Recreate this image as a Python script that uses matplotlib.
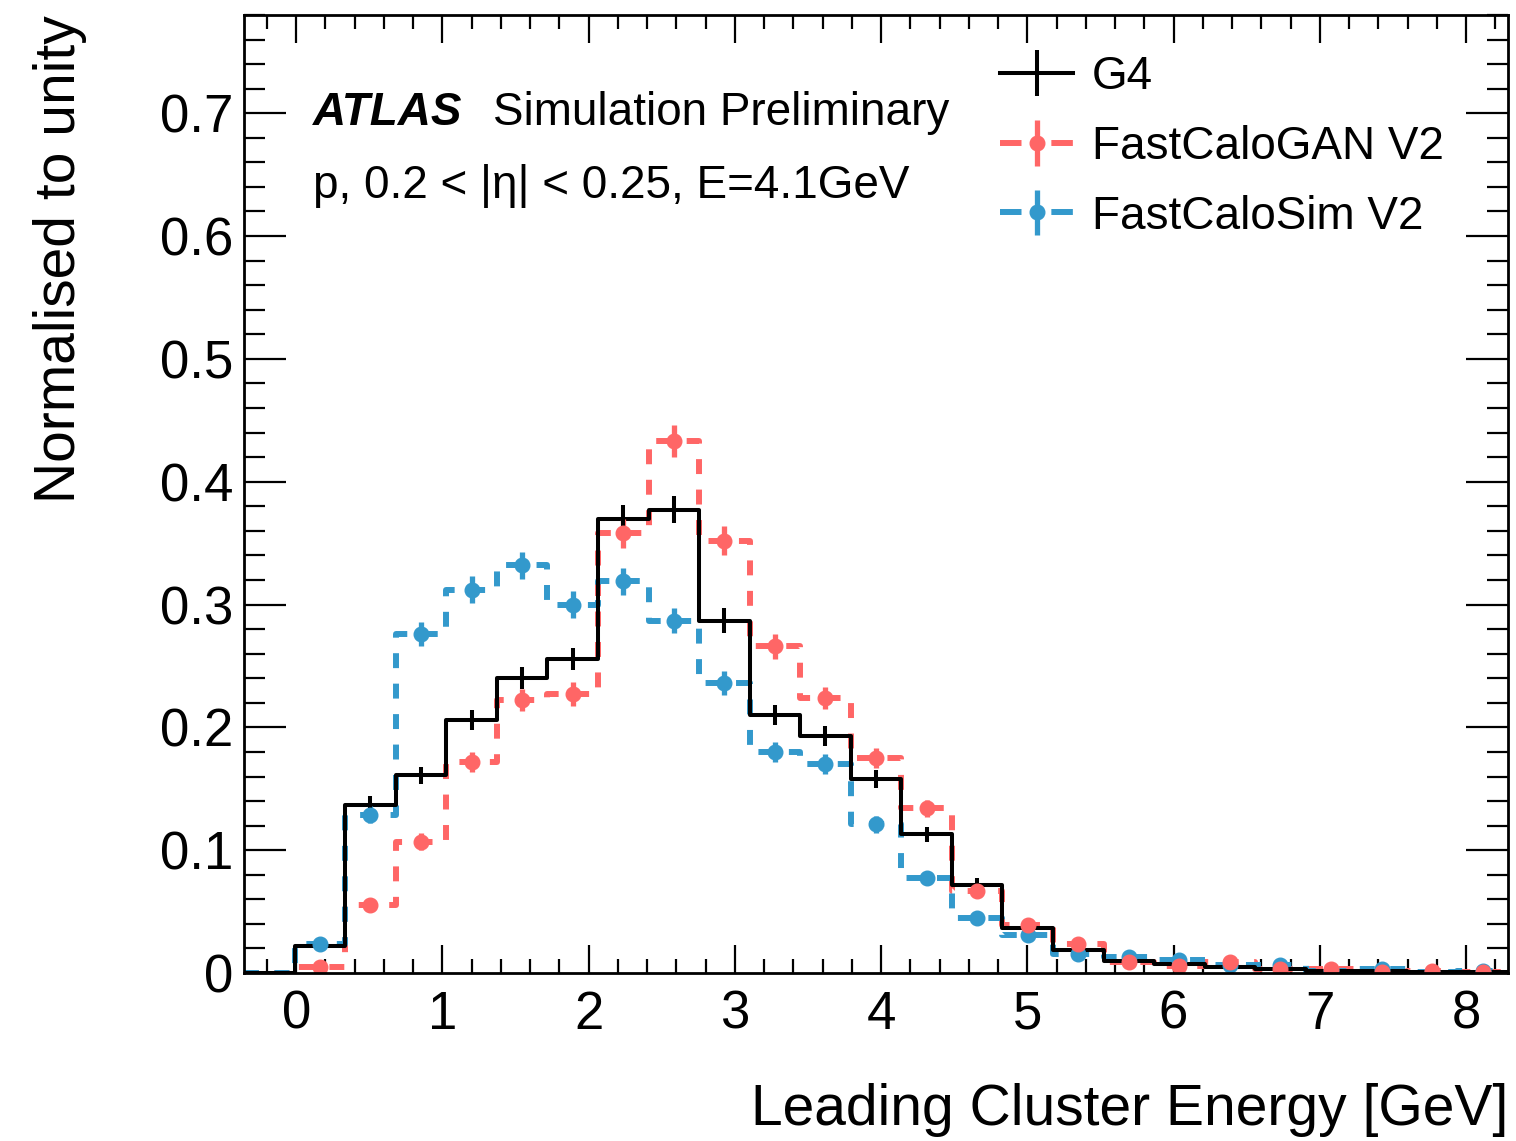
import numpy as np
from matplotlib import pyplot as plt
from matplotlib.legend_handler import HandlerTuple
from matplotlib.lines import Line2D
from matplotlib.ticker import MultipleLocator

plt.rcParams['font.family'] = ['Liberation Sans', 'DejaVu Sans']

# binning: 25 bins
edges = np.linspace(-0.356, 8.287, 26)

g4 = [0.0, 0.022, 0.137, 0.161, 0.206, 0.240, 0.256, 0.370, 0.377, 0.287,
      0.210, 0.193, 0.158, 0.113, 0.072, 0.037, 0.019, 0.010, 0.007, 0.005,
      0.003, 0.002, 0.002, 0.001, 0.001]
g4_err = [0.0, 0.003, 0.007, 0.007, 0.008, 0.009, 0.009, 0.011, 0.011, 0.010,
          0.008, 0.008, 0.007, 0.006, 0.005, 0.003, 0.002, 0.002, 0.001, 0.001,
          0.001, 0.001, 0.001, 0.001, 0.001]

gan = [0.0, 0.005, 0.055, 0.107, 0.172, 0.222, 0.227, 0.358, 0.433, 0.352,
       0.266, 0.224, 0.175, 0.134, 0.067, 0.039, 0.024, 0.009, 0.006, 0.009,
       0.003, 0.003, 0.001, 0.002, 0.001]
gan_err = [0.0, 0.002, 0.005, 0.007, 0.008, 0.009, 0.010, 0.012, 0.013, 0.012,
           0.010, 0.009, 0.008, 0.007, 0.005, 0.004, 0.003, 0.002, 0.002, 0.002,
           0.001, 0.001, 0.001, 0.001, 0.001]

fcs = [0.0, 0.024, 0.129, 0.276, 0.312, 0.332, 0.300, 0.319, 0.287, 0.236,
       0.180, 0.170, 0.121, 0.077, 0.045, 0.031, 0.0155, 0.013, 0.0105, 0.0065,
       0.0065, 0.0015, 0.003, 0.0005, 0.002]
fcs_err = [0.0, 0.003, 0.007, 0.010, 0.011, 0.011, 0.011, 0.011, 0.010, 0.010,
           0.008, 0.008, 0.007, 0.005, 0.004, 0.003, 0.002, 0.002, 0.002, 0.001,
           0.001, 0.001, 0.001, 0.001, 0.001]

red = '#ff6666'
blue = '#3399cc'
dash = (0, (2.5, 2.6))
dlw = 4.3

centres = 0.5 * (edges[:-1] + edges[1:])

fig = plt.figure(figsize=(15.16, 11.41), dpi=100)
ax = fig.add_axes([0.161, 0.1472, 0.8337, 0.8397])


def step_vals(vals):
    return np.append(vals, vals[-1])


# histograms
ax.step(edges, step_vals(gan), where='post', color=red, lw=dlw, ls=dash,
        dash_capstyle='butt')
ax.step(edges, step_vals(fcs), where='post', color=blue, lw=dlw, ls=dash,
        dash_capstyle='butt')
ax.step(edges, step_vals(g4), where='post', color='black', lw=2.9)

sel = slice(1, None)
eb_fcs = ax.errorbar(centres[sel], fcs[sel], yerr=fcs_err[sel], fmt='o',
                     color=blue, ms=10.5, elinewidth=3.8, capsize=0)
eb_gan = ax.errorbar(centres[sel], gan[sel], yerr=gan_err[sel], fmt='o',
                     color=red, ms=10.5, elinewidth=3.8, capsize=0)
eb_g4 = ax.errorbar(centres[sel], g4[sel], yerr=g4_err[sel], fmt='none',
                    color='black', elinewidth=2.9, capsize=0)

ax.set_xlim(edges[0], edges[-1])
ax.set_ylim(0, 0.78)

ax.xaxis.set_major_locator(MultipleLocator(1))
ax.xaxis.set_minor_locator(MultipleLocator(0.2))
ax.yaxis.set_major_locator(MultipleLocator(0.1))
ax.yaxis.set_minor_locator(MultipleLocator(0.02))
ax.set_yticks([0, 0.1, 0.2, 0.3, 0.4, 0.5, 0.6, 0.7])
ax.set_yticklabels(['0', '0.1', '0.2', '0.3', '0.4', '0.5', '0.6', '0.7'])

ax.tick_params(axis='both', which='both', direction='in', top=True, right=True,
               width=1.6, labelsize=38)
ax.tick_params(axis='x', which='major', length=20, pad=12)
ax.tick_params(axis='x', which='minor', length=10)
ax.tick_params(axis='y', which='major', length=30, pad=8)
ax.tick_params(axis='y', which='minor', length=15)
for s in ax.spines.values():
    s.set_linewidth(2.0)

ax.set_xlabel('Leading Cluster Energy [GeV]', fontsize=41, loc='right',
              labelpad=31)
ax.set_ylabel('Normalised to unity', fontsize=41, loc='top', labelpad=52)

ax.text(0.0546, 0.885, 'ATLAS', transform=ax.transAxes, fontsize=33,
        fontweight='bold', fontstyle='italic')
ax.text(0.197, 0.885, 'Simulation Preliminary', transform=ax.transAxes,
        fontsize=33)
ax.text(0.0546, 0.809, 'p, 0.2 < |η| < 0.25, E=4.1GeV',
        transform=ax.transAxes, fontsize=33)

h_g4 = Line2D([], [], color='black', lw=2.9)
h_gan = Line2D([], [], color=red, lw=dlw, ls=(0, (3.6, 5.0)),
               dash_capstyle='butt')
h_fcs = Line2D([], [], color=blue, lw=dlw, ls=(0, (3.6, 5.0)),
               dash_capstyle='butt')
ax.legend([(h_g4, eb_g4), (h_gan, eb_gan), (h_fcs, eb_fcs)],
          ['G4', 'FastCaloGAN V2', 'FastCaloSim V2'],
          handler_map={tuple: HandlerTuple(ndivide=1)},
          loc='upper left', bbox_to_anchor=(0.598, 0.958), frameon=False,
          fontsize=33, handlelength=1.6, handletextpad=0.4, labelspacing=0.56,
          borderaxespad=0, borderpad=0)

fig.savefig('out.png', dpi=100)
